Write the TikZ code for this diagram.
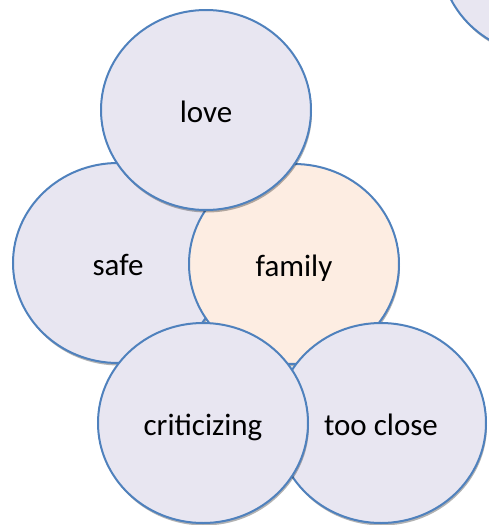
\documentclass[tikz,border=0pt]{standalone}
\usepackage{fontspec}
\setmainfont{Carlito}
\usetikzlibrary{shapes.geometric,shadows}

\definecolor{bubblefill}{RGB}{232,230,241}
\definecolor{corefill}{RGB}{253,237,226}
\definecolor{rim}{RGB}{79,129,189}

\tikzset{
  bubble/.style={ellipse, draw=rim, line width=2pt, fill=bubblefill,
    minimum width=210pt, minimum height=200pt, inner sep=0pt,
    text height=24pt, text depth=0pt,
    font=\fontsize{31}{37}\selectfont,
    drop shadow={shadow xshift=1pt, shadow yshift=-2.5pt, opacity=0.3, fill=black}},
  core/.style={bubble, fill=corefill}
}

\begin{document}
\begin{tikzpicture}[x=1pt, y=-1pt]
  \useasboundingbox (0,0) rectangle (489,525);

  \node[bubble] (edge) at (545,-45) {};
  \node[bubble] (safe) at (118,263) {safe};
  \node[core] (family) at (294,264) {family};

  \foreach \name/\x/\y/\word in {love/206/110/love, close/381/423/too close, crit/203/423/criticizing} {
    \node[bubble] (\name) at (\x,\y) {\word};
  }

\end{tikzpicture}
\end{document}
